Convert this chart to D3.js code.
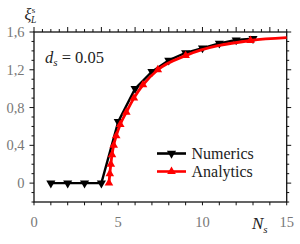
<!DOCTYPE html>
<html>
<head>
<meta charset="utf-8">
<script src="https://cdn.jsdelivr.net/npm/d3@7"></script>
<style>
  body { margin: 0; background: #fff; }
  svg { display: block; }
  text { font-family: "Liberation Serif", "DejaVu Serif", "Times New Roman", serif; }
  .tick-label { font-size: 14.5px; fill: #777; }
  .leg { font-size: 16px; fill: #222; }
</style>
</head>
<body>
<div id="chart"></div>
<script>
// numerics (black, down triangles)
const numX = [1, 2, 3, 4, 5, 6, 7, 8, 9, 10, 11, 12, 13]
const numY = [0, 0, 0, 0, 0.65, 1.0, 1.18, 1.3, 1.38, 1.43, 1.48, 1.515, 1.53]

// analytics (red, up triangles) - last point has no marker
const anaX = [4.45, 4.5, 4.56, 4.63, 4.73, 4.88, 5.12, 5.48, 5.93, 6.47, 7.35, 9.0, 12.85, 15]
const anaY = [0, 0.1, 0.2, 0.3, 0.4, 0.5, 0.62, 0.75, 0.9, 1.04, 1.2, 1.35, 1.51, 1.54]

const xTicks = [0, 5, 10, 15]
const yTicks = [0, 0.4, 0.8, 1.2, 1.6]
const yTickText = ['0', '0,4', '0,8', '1,2', '1,6']

const width = 300, height = 244
const m = { left: 34, right: 13.3, top: 32, bottom: 42 }

const svg = d3.select('#chart').append('svg')
  .attr('width', width)
  .attr('height', height)

const x = d3.scaleLinear().domain([0, 15]).range([m.left, width - m.right])
const y = d3.scaleLinear().domain([-0.2, 1.6]).range([height - m.bottom, m.top])

const x0 = x(0), x1 = x(15), y0 = y(-0.2), y1 = y(1.6)

//ticks, all pointing outward
const axes = svg.append('g').attr('stroke', '#111').attr('stroke-width', 1)

// bottom: every 1
d3.range(0, 15.01, 1).forEach(v => {
  axes.append('line').attr('x1', x(v)).attr('x2', x(v)).attr('y1', y0).attr('y2', y0 + 3.3)
})
// top: every 0.5, longer every 2
d3.range(0, 15.01, 0.5).forEach(v => {
  const big = Math.abs(v / 2 - Math.round(v / 2)) < 1e-6
  axes.append('line').attr('x1', x(v)).attr('x2', x(v)).attr('y1', y1).attr('y2', y1 - (big ? 5 : 3))
})
// left and right: every 0.1, longer every 0.4
d3.range(-0.2, 1.601, 0.1).forEach(v => {
  const big = Math.abs(v / 0.4 - Math.round(v / 0.4)) < 1e-6
  const len = big ? 4.5 : 2.5
  axes.append('line').attr('x1', x0).attr('x2', x0 - len).attr('y1', y(v)).attr('y2', y(v))
  axes.append('line').attr('x1', x1).attr('x2', x1 + len).attr('y1', y(v)).attr('y2', y(v))
})

svg.append('rect')
  .attr('x', x0).attr('y', y1)
  .attr('width', x1 - x0).attr('height', y0 - y1)
  .attr('fill', 'none').attr('stroke', '#111').attr('stroke-width', 1.3)

// tick labels
svg.append('g').selectAll('text')
  .data(xTicks)
  .enter()
  .append('text')
  .attr('class', 'tick-label')
  .attr('x', d => x(d))
  .attr('y', y0 + 24.5)
  .attr('text-anchor', 'middle')
  .text(d => d)

svg.append('g').selectAll('text')
  .data(yTicks)
  .enter()
  .append('text')
  .attr('class', 'tick-label')
  .attr('x', x0 - 9.5)
  .attr('y', d => y(d) + 5)
  .attr('text-anchor', 'end')
  .text((d, i) => yTickText[i])

// axis titles
const yl = svg.append('text')
  .attr('x', 24.5).attr('y', 20)
  .attr('fill', '#222')
yl.append('tspan').attr('font-style', 'italic').attr('font-size', 16).text('ξ')
yl.append('tspan').attr('font-size', 9).attr('dy', -7).attr('dx', 0.5).text('s')
yl.append('tspan').attr('font-style', 'italic').attr('font-size', 9.5).attr('dy', 9.5).attr('dx', -4.5).text('L')

const xl = svg.append('text')
  .attr('x', 252).attr('y', 229)
  .attr('fill', '#222')
xl.append('tspan').attr('font-style', 'italic').attr('font-size', 17).text('N')
xl.append('tspan').attr('font-style', 'italic').attr('font-size', 11).attr('dy', 3.5).text('s')

const ann = svg.append('text')
  .attr('x', 45).attr('y', 63)
  .attr('font-size', 16.5)
  .attr('fill', '#222')
ann.append('tspan').attr('font-style', 'italic').text('d')
ann.append('tspan').attr('font-style', 'italic').attr('font-size', 11).attr('dy', 3).text('s')
ann.append('tspan').attr('dy', -3).text(' = 0.05')

// series
const numData = numX.map((d, i) => [d, numY[i]])
const anaData = anaX.map((d, i) => [d, anaY[i]])

const down = d3.symbol().type(d3.symbolTriangle).size(36)
const up = d3.symbol().type(d3.symbolTriangle).size(32)

const plot = svg.append('g')

plot.append('path')
  .datum(numData)
  .attr('d', d3.line().x(d => x(d[0])).y(d => y(d[1])))
  .attr('fill', 'none')
  .attr('stroke', '#000')
  .attr('stroke-width', 2.4)

plot.selectAll('.num')
  .data(numData)
  .enter()
  .append('path')
  .attr('class', 'num')
  .attr('d', down)
  .attr('transform', d => 'translate(' + x(d[0]) + ',' + y(d[1]) + ') rotate(180)')
  .attr('fill', '#000')

plot.append('path')
  .datum(anaData)
  .attr('d', d3.line().curve(d3.curveMonotoneX).x(d => x(d[0])).y(d => y(d[1])))
  .attr('fill', 'none')
  .attr('stroke', '#ff0000')
  .attr('stroke-width', 2.8)

plot.selectAll('.ana')
  .data(anaData.slice(0, -1))
  .enter()
  .append('path')
  .attr('class', 'ana')
  .attr('d', up)
  .attr('transform', d => 'translate(' + x(d[0]) + ',' + y(d[1]) + ')')
  .attr('fill', '#ff0000')

// legend
const legend = [
  { name: 'Numerics', color: '#000', sym: down, rot: 180, y: 153.5 },
  { name: 'Analytics', color: '#ff0000', sym: up, rot: 0, y: 171.5 }
]
legend.forEach(l => {
  svg.append('line')
    .attr('x1', 157).attr('x2', 186)
    .attr('y1', l.y).attr('y2', l.y)
    .attr('stroke', l.color).attr('stroke-width', 2.6)
  svg.append('path')
    .attr('d', l.sym)
    .attr('transform', 'translate(171.5,' + l.y + ') rotate(' + l.rot + ')')
    .attr('fill', l.color)
  svg.append('text')
    .attr('class', 'leg')
    .attr('x', 191.5).attr('y', l.y + 5)
    .text(l.name)
})
</script>
</body>
</html>
